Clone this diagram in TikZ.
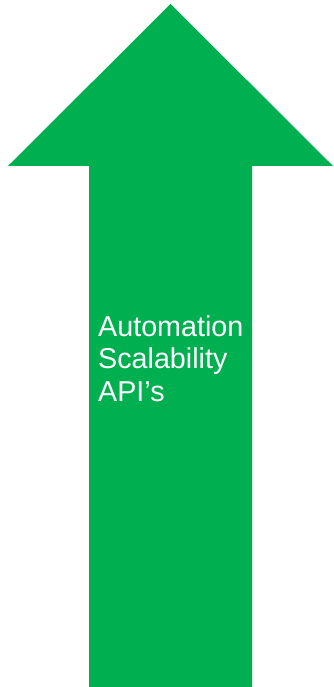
\documentclass[tikz,border=0pt]{standalone}
\usepackage{fontspec}
\setmainfont{Liberation Sans}
\usepackage{tikz}
\definecolor{arrowgreen}{HTML}{00B050}
\tikzset{
  bigarrow/.style={fill=arrowgreen, draw=none},
  arrowtext/.style={text=white, align=left, inner sep=0pt, anchor=base west,
    font=\fontsize{28.7}{32.5}\selectfont}
}

\begin{document}
\begin{tikzpicture}[x=1pt, y=1pt]
   \useasboundingbox (0, 0) rectangle (333, 687);
   \coordinate (Tip) at (170.5, 683);
   \coordinate (HL) at (8, 521);
   \coordinate (HR) at (333, 521);
   \coordinate (SL) at (89, 521);
   \coordinate (SR) at (252, 521);
   \coordinate (BL) at (89, 0);
   \coordinate (BR) at (252, 0);
   \fill [bigarrow] (Tip) -- (HR) -- (SR) -- (BR) -- (BL) -- (SL) -- (HL) -- cycle;
   \node [arrowtext] (Label) at (98, 285.5) {Automation\\Scalability\\API’s};
\end{tikzpicture}
\end{document}
